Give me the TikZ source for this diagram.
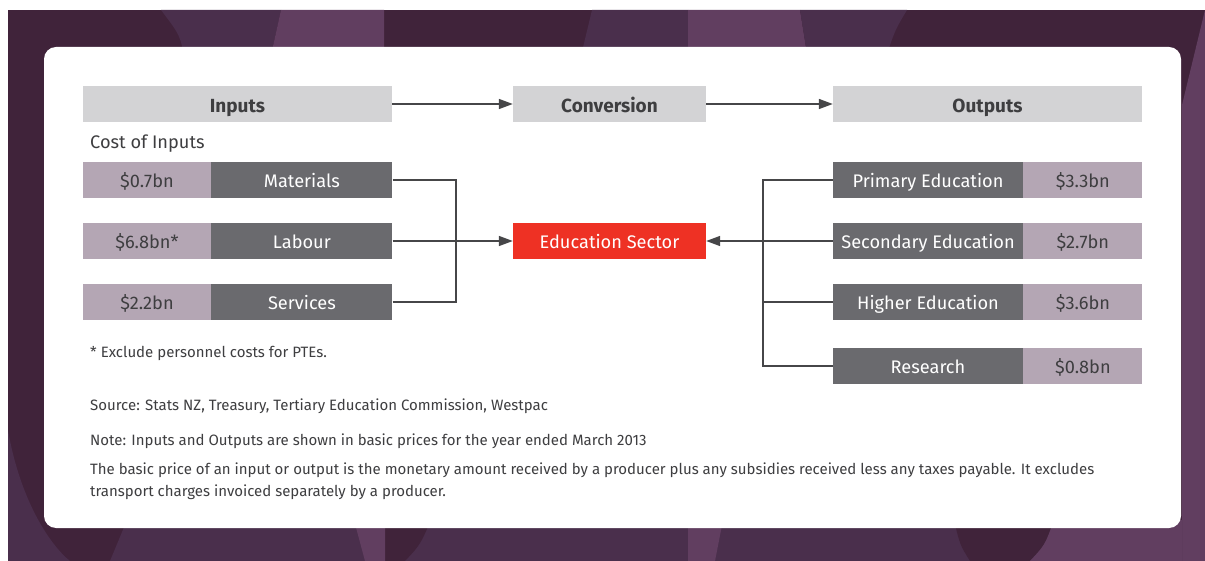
\documentclass[tikz,border=0pt]{standalone}
\usepackage{fontspec}
\setmainfont{Fira Sans}
\usetikzlibrary{arrows.meta,positioning}

\definecolor{bgdark}{RGB}{64,35,58}
\definecolor{bgmid}{RGB}{74,47,76}
\definecolor{bglight}{RGB}{97,62,96}
\definecolor{headgray}{RGB}{211,211,213}
\definecolor{mauve}{RGB}{180,166,180}
\definecolor{slate}{RGB}{106,106,110}
\definecolor{sectred}{RGB}{238,49,36}
\definecolor{inkgray}{RGB}{62,62,64}
\definecolor{linegray}{RGB}{70,70,72}

\tikzset{
  cell/.style={inner sep=0pt, minimum height=36pt, text height=14.8pt, text depth=0pt,
    font=\fontsize{18.2}{21}\selectfont},
  head/.style={cell, fill=headgray, text=inkgray, text height=17pt,
    font=\fontsize{19}{22}\selectfont\bfseries},
  val/.style={cell, fill=mauve, text=inkgray, minimum width=128pt},
  lab/.style={cell, fill=slate, text=white, minimum width=181pt},
  outlab/.style={cell, fill=slate, text=white, minimum width=190pt},
  outval/.style={cell, fill=mauve, text=inkgray, minimum width=119pt},
  note/.style={anchor=west, inner sep=0pt, text=inkgray, font=\fontsize{15}{22}\selectfont, align=left},
  link/.style={draw=linegray, line width=1.6pt},
  flow/.style={link, -{Triangle[length=14pt,width=10pt]}}
}

\begin{document}
\begin{tikzpicture}[x=1pt,y=-1pt]
\useasboundingbox (0,0) rectangle (1205,561);

% Background
\fill[bgdark] (8,10) rectangle (1205,561);
\fill[bgmid] (161,10) -- (281,10) -- (270,60) -- (185,60) .. controls (180,35) .. (161,10) -- cycle;
\fill[bglight] (281,10) -- (384,10) -- (384,60) -- (270,60) -- cycle;
\fill[bgmid] (592,10) -- (688,10) -- (688,60) -- (580,60) -- cycle;
\fill[bglight] (688,10) -- (800,10) -- (808,60) -- (688,60) -- cycle;
\fill[bgmid] (800,10) -- (907,10) .. controls (895,30) .. (885,60) -- (808,60) -- cycle;
\fill[bglight] (1205,10) -- (1205,561) -- (1182,561) -- (1182,105) -- cycle;
\fill[bgmid] (8,430) .. controls (20,500) and (50,545) .. (70,561) -- (8,561) -- cycle;
\fill[bgmid] (127,520) -- (1182,520) -- (1182,561) -- (110,561) -- cycle;
\fill[bgdark] (385,520) -- (431,520) .. controls (420,545) .. (405,561) -- (385,561) -- cycle;
\fill[bglight] (354,520) -- (385,520) -- (385,561) -- (365,561) -- cycle;
\fill[bglight] (688,520) -- (723,520) -- (715,561) -- (688,561) -- cycle;
\fill[bgdark] (954,520) -- (1054,520) .. controls (1045,545) .. (1030,561) -- (970,561) .. controls (960,545) .. (954,520) -- cycle;
\fill[bglight] (1054,520) -- (1182,520) -- (1182,561) -- (1030,561) .. controls (1045,545) .. (1054,520) -- cycle;

% White panel
\fill[white, rounded corners=12pt] (44,47) rectangle (1181,528);

% Stage headers
\node[head, minimum width=309pt] (inputs) at (237.5,104) {Inputs};
\node[head, minimum width=193pt] (conv) at (609.5,104) {Conversion};
\node[head, minimum width=309pt] (outputs) at (987.5,104) {Outputs};
\draw[flow] (inputs) -- (conv);
\draw[flow] (conv) -- (outputs);

\node[note, font=\fontsize{18.2}{21}\selectfont] (costs) at (90,144) {Cost of Inputs};

% Inputs
\node[val] (matval) at (147,180) {\$0.7bn};
\node[lab, right=0pt of matval] (mat) {Materials};
\node[val] (labval) at (147,241) {\$6.8bn*};
\node[lab, right=0pt of labval] (labr) {Labour};
\node[val] (srvval) at (147,302) {\$2.2bn};
\node[lab, right=0pt of srvval] (srv) {Services};

% Sector
\node[cell, fill=sectred, text=white, minimum width=193pt] (sector) at (609.5,241) {Education Sector};

% Outputs
\node[outlab] (prim) at (928,180) {Primary Education};
\node[outval, right=0pt of prim] (primval) {\$3.3bn};
\node[outlab] (sec) at (928,241) {Secondary Education};
\node[outval, right=0pt of sec] (secval) {\$2.7bn};
\node[outlab] (high) at (928,302) {Higher Education};
\node[outval, right=0pt of high] (highval) {\$3.6bn};
\node[outlab] (res) at (928,366) {Research};
\node[outval, right=0pt of res] (resval) {\$0.8bn};

% Connectors
\coordinate (jin) at (456,241);
\coordinate (jout) at (763,241);
\draw[link] (mat.east) -| (jin);
\draw[link] (srv.east) -| (jin);
\draw[flow] (labr.east) -- (sector.west);
\draw[link] (prim.west) -| (jout);
\draw[link] (res.west) -| (jout);
\draw[link] (high.west) -- (high.west -| jout);
\draw[flow] (sec.west) -- (sector.east);

% Notes
\node[note] (foot) at (90,353) {* Exclude personnel costs for PTEs.};
\node[note] (source) at (90,406) {Source: Stats NZ, Treasury, Tertiary Education Commission, Westpac};
\node[note] (prices) at (90,441) {Note: Inputs and Outputs are shown in basic prices for the year ended March 2013};
\node[note] (basic) at (90,481) {The basic price of an input or output is the monetary amount received by a producer plus any subsidies received less any taxes payable. It excludes\\transport charges invoiced separately by a producer.};

\end{tikzpicture}
\end{document}
